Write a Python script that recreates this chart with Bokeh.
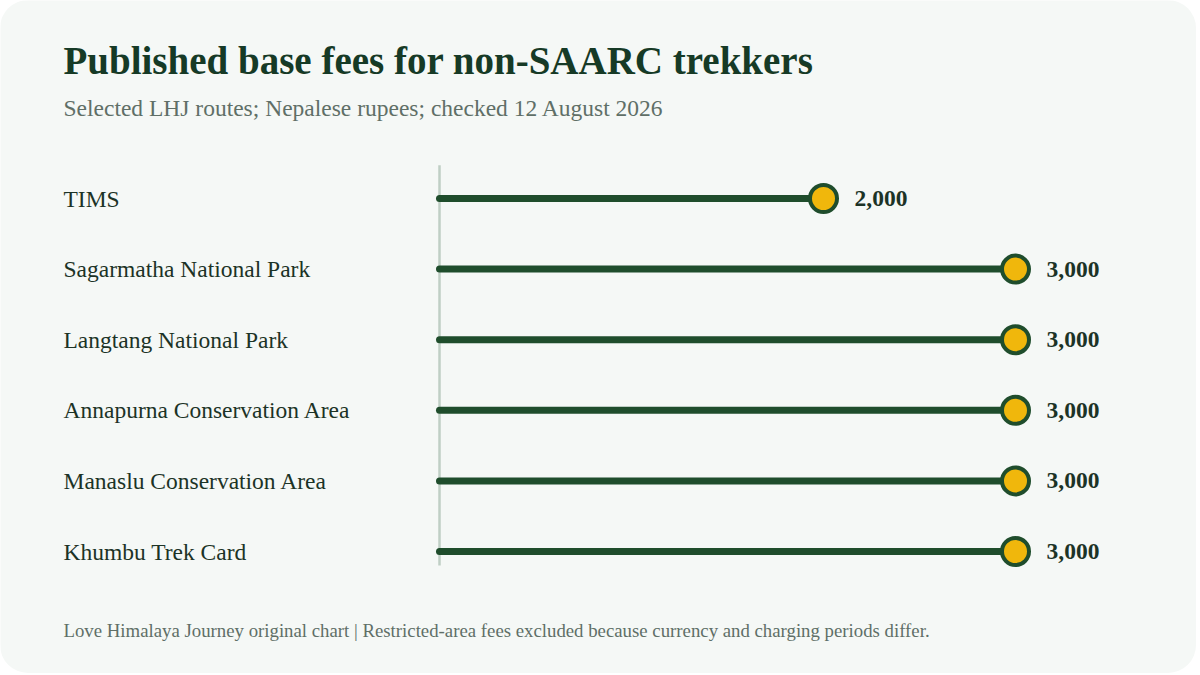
from bokeh.plotting import figure
from bokeh.models import Range1d, Label, ColumnDataSource
from bokeh.embed import file_html
from bokeh.resources import INLINE
from bokeh.core.properties import value

# ---- data ----
categories = ["TIMS", "Sagarmatha National Park", "Langtang National Park",
              "Annapurna Conservation Area", "Manaslu Conservation Area", "Khumbu Trek Card"]
fees = [2000, 3000, 3000, 3000, 3000, 3000]
fee_labels = [f"{v:,}" for v in fees]

title = "Published base fees for non-SAARC trekkers"
subtitle = "Selected LHJ routes; Nepalese rupees; checked 12 August 2026"
footer = "Love Himalaya Journey original chart | Restricted-area fees excluded because currency and charging periods differ."

# ---- layout constants ----
W, H = 1196, 673
ZERO_PX = 439          # canvas x of value 0
PX_PER_1000 = 192.0
ROW0_PX = 198          # canvas y of first row
ROW_PX = 70.6
LEFT_PX = 63

CARD = "#f5f8f6"
DARK = "#1f4d2c"
GOLD = "#f0b70c"
TEXT = "#1c3326"
MUTED = "#5f6f67"
SERIF = "Liberation Serif"

x_start = -ZERO_PX / PX_PER_1000 * 1000
x_end = (W - ZERO_PX) / PX_PER_1000 * 1000
y_top = -ROW0_PX / ROW_PX
y_bottom = (H - ROW0_PX) / ROW_PX

p = figure(width=W, height=H, output_backend="svg", toolbar_location=None,
           x_range=Range1d(x_start, x_end), y_range=Range1d(y_bottom, y_top),
           min_border=0, min_border_left=0, min_border_right=0,
           min_border_top=0, min_border_bottom=0)
p.axis.visible = False
p.grid.visible = False
p.outline_line_color = None
p.background_fill_color = CARD
p.border_fill_color = CARD
p.styles = {"border-radius": "28px", "overflow": "hidden"}

idx = list(range(len(categories)))
src = ColumnDataSource(dict(y=idx, fee=fees, zero=[0] * len(fees), cat=categories, lab=fee_labels))

# baseline axis
p.segment(x0=0, y0=-0.47, x1=0, y1=len(categories) - 1 + 0.2, line_color="#bfcfc5", line_width=2.5)

# stems
p.segment(x0="zero", y0="y", x1="fee", y1="y", source=src, line_color=DARK, line_width=7, line_cap="round")
# dots
p.scatter(x="fee", y="y", source=src, size=27, fill_color=GOLD, line_color=DARK, line_width=4)

# category labels
p.text(x="zero", y="y", text="cat", source=src, x_offset=-(ZERO_PX - LEFT_PX), text_align="left",
       text_baseline="middle", text_font=value(SERIF), text_font_size="23.5px", text_color=TEXT)
# value labels
p.text(x="fee", y="y", text="lab", source=src, x_offset=31, text_align="left",
       text_baseline="middle", text_font=value(SERIF), text_font_size="23.5px",
       text_font_style="bold", text_color=TEXT)

# titles
p.add_layout(Label(x=LEFT_PX, y=H - 60, x_units="screen", y_units="screen", text=title,
                   text_font=SERIF, text_font_size="39px", text_font_style="bold",
                   text_color="#163a26", text_baseline="middle"))
p.add_layout(Label(x=LEFT_PX, y=H - 107, x_units="screen", y_units="screen", text=subtitle,
                   text_font=SERIF, text_font_size="23.5px", text_color=MUTED, text_baseline="middle"))
p.add_layout(Label(x=LEFT_PX, y=H - 630, x_units="screen", y_units="screen", text=footer,
                   text_font=SERIF, text_font_size="18.8px", text_color=MUTED, text_baseline="middle"))

open("out.html", "w").write(file_html(p, INLINE))
